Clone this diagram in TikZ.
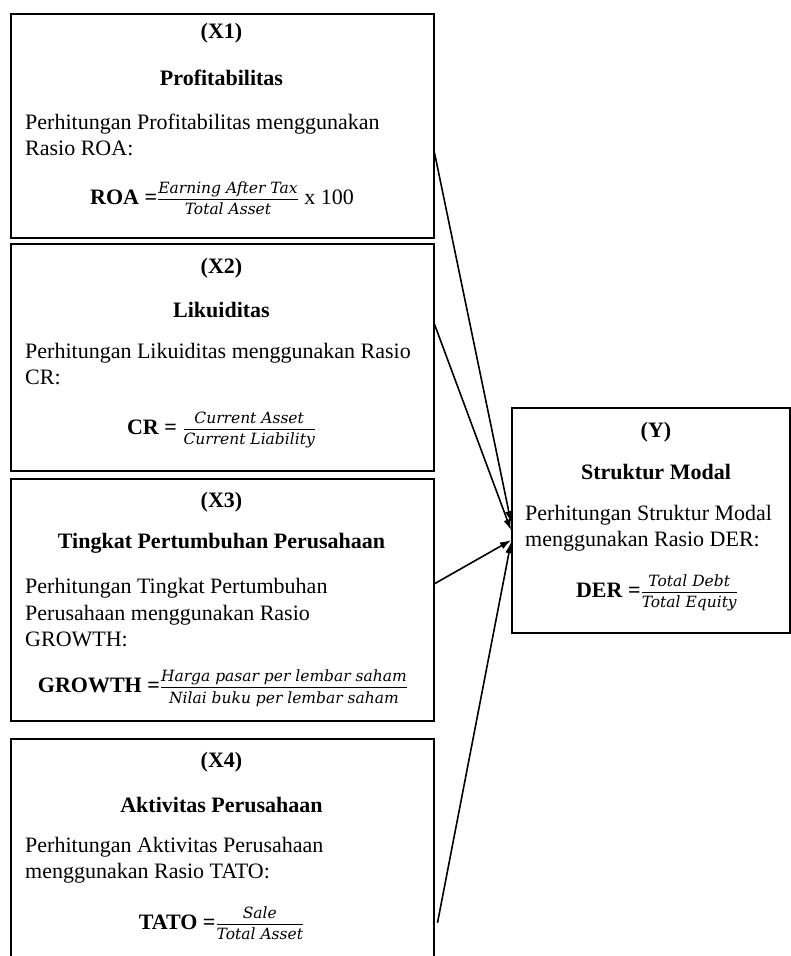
\documentclass[tikz,border=0pt]{standalone}
\usepackage{amsmath}
\usepackage{fontspec}
\setmainfont{Liberation Serif}
\newfontfamily\fracfont{DejaVu Serif}
\usetikzlibrary{arrows.meta,positioning}
\newcommand{\rumus}[2]{\frac{\text{\fracfont\itshape\fontsize{15.5}{17}\selectfont\rule[-5pt]{0pt}{0pt}#1}}{\text{\fracfont\itshape\fontsize{15.5}{17}\selectfont\rule{0pt}{14pt}#2}}}

\begin{document}
\begin{tikzpicture}[
  x=1pt, y=-1pt, font=\fontsize{22}{26.5}\selectfont,
  b/.style={draw,line width=1.5pt,anchor=north west,inner sep=0pt,minimum width=423pt},
  t/.style={font=\fontsize{22}{26.5}\selectfont\bfseries,inner sep=0pt},
  p/.style={anchor=west,align=left,inner sep=0pt},
  f/.style={inner sep=0pt},
  a/.style={line width=1.6pt,-{Latex[length=11pt,width=7.5pt]}}]
\useasboundingbox (0,0) rectangle (791,956);
% boxes
\node[b,minimum height=224pt] (x1) at (10,13) {};
\node[b,minimum height=227pt] (x2) at (10,243) {};
\node[b,minimum height=242pt] (x3) at (10,478) {};
\node[b,minimum height=232pt] (x4) at (10,738) {};
\node[b,minimum width=278pt,minimum height=225pt] (y) at (511,407) {};
% X1
\node[t] (x1a) at (221.5,33) {(X1)};
\node[t] (x1b) at (221.5,78) {Profitabilitas};
\node[p] (x1c) at (25,135) {Perhitungan Profitabilitas menggunakan\\Rasio ROA:};
\node[f] (x1d) at (222,198) {\textbf{ROA =}$\rumus{Earning After Tax}{Total Asset}$ x 100};
% X2
\node[t] (x2a) at (221.5,268) {(X2)};
\node[t] (x2b) at (221.5,310) {Likuiditas};
\node[p] (x2c) at (25,364) {Perhitungan Likuiditas menggunakan Rasio\\CR:};
\node[f] (x2d) at (221.5,430) {\textbf{CR =} $\rumus{Current Asset}{Current Liability}$};
% X3
\node[t] (x3a) at (221.5,502) {(X3)};
\node[t] (x3b) at (221.5,543) {Tingkat Pertumbuhan Perusahaan};
\node[p] (x3c) at (25,613) {Perhitungan Tingkat Pertumbuhan\\Perusahaan menggunakan Rasio\\GROWTH:};
\node[f] (x3d) at (223,688) {\textbf{GROWTH =}$\rumus{Harga pasar per lembar saham}{Nilai buku per lembar saham}$};
% X4
\node[t] (x4a) at (221.5,762) {(X4)};
\node[t] (x4b) at (221.5,805) {Aktivitas Perusahaan};
\node[p] (x4c) at (25,860) {Perhitungan Aktivitas Perusahaan\\menggunakan Rasio TATO:};
\node[f] (x4d) at (221.5,923) {\textbf{TATO =}$\rumus{Sale}{Total Asset}$};
% Y
\node[t] (ya) at (656,432) {(Y)};
\node[t] (yb) at (656,472) {Struktur Modal};
\node[p] (yc) at (525,528) {Perhitungan Struktur Modal\\menggunakan Rasio DER:};
\node[f] (yd) at (657,593) {\textbf{DER =}$\rumus{Total Debt}{Total Equity}$};
% arrows
\draw[a]([yshift=-27pt]x1.east)--([yshift=-2pt]y.west);
\draw[a]([yshift=33pt]x2.east)--([yshift=-10pt]y.west);
\draw[a]([yshift=16pt]x3.east)--([yshift=-20pt]y.west);
\draw[a]([xshift=3pt,yshift=-68pt]x4.east)--([yshift=-22pt]y.west);
\end{tikzpicture}
\end{document}
